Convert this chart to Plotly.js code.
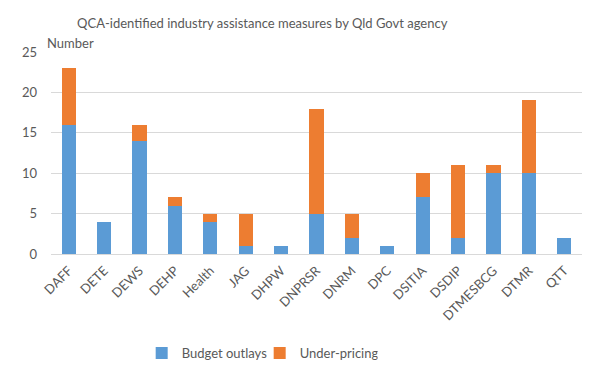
<!DOCTYPE html>
<html><head><meta charset="utf-8">
<script src="https://cdn.plot.ly/plotly-3.0.1.min.js"></script>
<style>html,body{margin:0;padding:0;background:#fff}#chart{width:596px;height:375px}</style>
</head><body><div id="chart"></div>
<script>
const categories = ["DAFF","DETE","DEWS","DEHP","Health","JAG","DHPW","DNPRSR","DNRM","DPC","DSITIA","DSDIP","DTMESBCG","DTMR","QTT"];
const budgetOutlays = [16,4,14,6,4,1,1,5,2,1,7,2,10,10,2];
const underPricing = [7,0,2,1,1,4,0,13,3,0,3,9,1,9,0];
const yTicks = [0,5,10,15,20,25];

const font = "Lato, 'Open Sans', sans-serif";
const data = [
  {type:'bar', name:'Budget outlays', x:categories, y:budgetOutlays, marker:{color:'#5B9BD5'}},
  {type:'bar', name:'Under-pricing', x:categories, y:underPricing, marker:{color:'#ED7D31'}}
];
const layout = {
  width:596, height:375, barmode:'stack', bargap:0.6,
  paper_bgcolor:'#fff', plot_bgcolor:'#fff',
  margin:{l:51, r:14, t:52, b:121, autoexpand:false},
  font:{family:font, color:'#595959', size:13},
  title:{text:'QCA-identified industry assistance measures by Qld Govt agency', x:0.44, xanchor:'center', y:(375-23)/375, yanchor:'middle', font:{family:font, size:13, color:'#595959'}},
  xaxis:{automargin:false, tickangle:-45, showline:true, linecolor:'#d9d9d9', ticks:'', ticklabelstandoff:3, tickfont:{size:13, color:'#595959'}},
  yaxis:{automargin:false, range:[0,25], tickvals:yTicks, showgrid:true, gridcolor:'#d9d9d9', zeroline:false, ticks:'', ticklen:0, ticklabelstandoff:13, tickfont:{size:13,color:'#595959'}},
  showlegend:true,
  legend:{orientation:'h', x:0.393, xanchor:'center', y:(375-353)/375, yref:'container', yanchor:'middle', itemwidth:30, entrywidth:73, font:{size:13, color:'#595959'}, traceorder:'normal'},
  annotations:[{text:'Number', xref:'paper', yref:'paper', x:0, y:1, xanchor:'left', yanchor:'middle', xshift:-6, yshift:9, showarrow:false, font:{family:font, size:13, color:'#595959'}}]
};
Plotly.newPlot('chart', data, layout, {displayModeBar:false, staticPlot:true});
</script></body></html>
